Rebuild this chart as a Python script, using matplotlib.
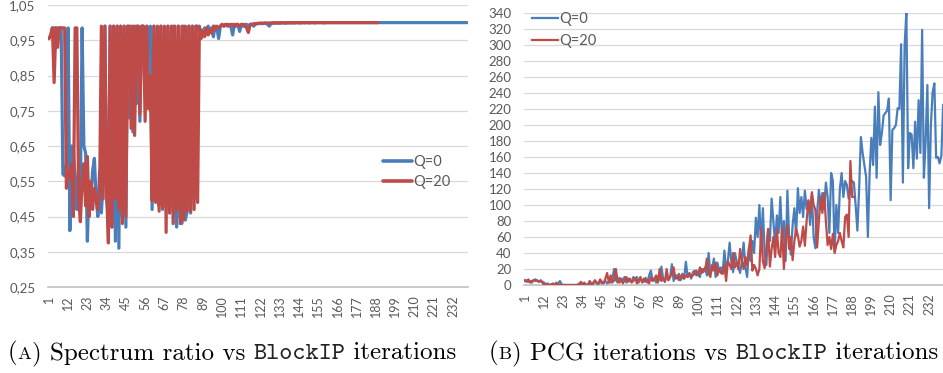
import matplotlib
matplotlib.use("Agg")
import matplotlib.pyplot as plt
from matplotlib.ticker import FuncFormatter
from matplotlib.offsetbox import TextArea, HPacker, AnchoredOffsetbox

series_labels = ["Q=0", "Q=20"]
series_colors = ["#4A7EBB", "#BE4B48"]

# (A) spectrum ratio per BlockIP iteration
ratio_q0 = [
    0.955, 0.96, 0.985, 0.985, 0.985, 0.985, 0.985, 0.985, 0.57, 0.565,
    0.6, 0.985, 0.41, 0.65, 0.64, 0.55, 0.47, 0.6, 0.52, 0.985,
    0.65, 0.63, 0.38, 0.55, 0.5, 0.58, 0.615, 0.5, 0.45, 0.58,
    0.46, 0.55, 0.99, 0.5, 0.45, 0.99, 0.42, 0.99, 0.38, 0.99,
    0.36, 0.99, 0.45, 0.99, 0.42, 0.99, 0.73, 0.99, 0.69, 0.99,
    0.77, 0.99, 0.72, 0.99, 0.99, 0.9, 0.99, 0.93, 0.99, 0.47,
    0.99, 0.5, 0.9, 0.48, 0.99, 0.47, 0.93, 0.5, 0.99, 0.46,
    0.95, 0.99, 0.48, 0.42, 0.99, 0.45, 0.43, 0.99, 0.44, 0.465,
    0.99, 0.46, 0.99, 0.5, 0.99, 0.99, 0.975, 0.98, 0.97, 0.985,
    0.975, 0.99, 0.98, 0.985, 0.96, 0.99, 0.985, 0.955, 0.99, 0.995,
    0.99, 0.995, 0.99, 0.995, 0.99, 0.965, 0.995, 0.99, 0.995, 0.975,
    0.995, 0.99, 0.995, 0.995, 0.99, 0.995, 0.995, 0.99, 0.995, 0.997,
    0.997, 0.998, 0.997, 0.998, 0.998, 0.995, 0.99, 0.998, 0.998, 0.999,
    0.998, 0.999, 0.998, 0.999, 0.999, 0.998, 0.999, 0.999, 0.999, 0.999,
    0.999, 0.999, 1.0, 0.999, 0.999, 1.0, 0.999, 1.0, 1.0, 0.999,
    1.0, 1.0, 0.999, 1.0, 1.0, 1.0, 1.0, 0.999, 1.0, 1.0,
    1.0, 1.0, 1.0, 1.0, 1.0, 1.0, 1.0, 1.0, 1.0, 1.0,
    1.0, 1.0, 1.0, 1.0, 1.0, 1.0, 1.0, 1.0, 1.0, 1.0,
    1.0, 1.0, 1.0, 1.0, 1.0, 1.0, 1.0, 1.0, 1.0, 1.0,
    1.0, 1.0, 1.0, 1.0, 1.0, 1.0, 1.0, 1.0, 1.0, 1.0,
    1.0, 1.0, 1.0, 1.0, 1.0, 1.0, 1.0, 1.0, 1.0, 1.0,
    1.0, 1.0, 1.0, 1.0, 1.0, 1.0, 1.0, 1.0, 1.0, 1.0,
    1.0, 1.0, 1.0, 1.0, 1.0, 1.0, 1.0, 1.0, 1.0, 1.0,
    1.0, 1.0, 1.0, 1.0, 1.0, 1.0, 1.0, 1.0, 1.0, 1.0,
]
ratio_q20 = [
    0.955, 0.965, 0.985, 0.83, 0.985, 0.93, 0.985, 0.985, 0.985, 0.985,
    0.53, 0.58, 0.56, 0.6, 0.45, 0.985, 0.985, 0.5, 0.435, 0.55,
    0.6, 0.48, 0.62, 0.45, 0.55, 0.47, 0.53, 0.5, 0.47, 0.52,
    0.99, 0.5, 0.99, 0.52, 0.375, 0.99, 0.42, 0.99, 0.5, 0.99,
    0.47, 0.99, 0.43, 0.99, 0.45, 0.99, 0.99, 0.7, 0.99, 0.68,
    0.99, 0.99, 0.74, 0.99, 0.99, 0.72, 0.99, 0.755, 0.85, 0.495,
    0.99, 0.49, 0.99, 0.465, 0.99, 0.475, 0.99, 0.405, 0.99, 0.46,
    0.99, 0.43, 0.99, 0.47, 0.99, 0.43, 0.99, 0.44, 0.99, 0.465,
    0.99, 0.465, 0.99, 0.47, 0.99, 0.49, 0.99, 0.955, 0.975, 0.96,
    0.985, 0.965, 0.98, 0.97, 0.99, 0.98, 0.99, 0.985, 0.99, 0.995,
    0.99, 0.995, 0.995, 0.99, 0.995, 0.995, 0.99, 0.995, 0.995, 0.99,
    0.995, 0.995, 0.99, 0.985, 0.972, 0.995, 0.995, 0.997, 0.997, 0.998,
    0.998, 0.999, 0.998, 0.999, 0.999, 0.999, 0.999, 0.999, 1.0, 0.999,
    1.0, 0.999, 1.0, 1.0, 1.0, 0.999, 1.0, 1.0, 1.0, 1.0,
    1.0, 1.0, 1.0, 1.0, 1.0, 1.0, 1.0, 1.0, 1.0, 1.0,
    1.0, 1.0, 1.0, 1.0, 1.0, 1.0, 1.0, 1.0, 1.0, 1.0,
    1.0, 1.0, 1.0, 1.0, 1.0, 1.0, 1.0, 1.0, 1.0, 1.0,
    1.0, 1.0, 1.0, 1.0, 1.0, 1.0, 1.0, 1.0, 1.0, 1.0,
    1.0, 1.0, 1.0, 1.0, 1.0, 1.0, 1.0, 1.0, 1.0,
]

# (B) PCG iterations per BlockIP iteration
pcg_q0 = [
    5, 6, 4, 5, 3, 6, 7, 5, 4, 6,
    4, 3, 1, 2, 0, 1, 0, 0, 2, 1,
    5, 1, 0, 0, 0, 0, 0, 0,
    0, 0, 0, 2, 0, 1, 3, 0, 1, 2,
    0, 3, 5, 2, 1, 4, 2, 3, 5, 2,
    4, 3, 8, 20, 6, 3, 9, 4, 7, 10,
    3, 8, 5, 4, 10, 6, 10, 3, 8, 5,
    4, 9, 3, 12, 18, 5, 8, 3, 10, 6,
    23, 8, 4, 12, 6, 10, 26, 5, 12, 8,
    14, 6, 10, 8, 29, 10, 14, 8, 16, 18,
    12, 14, 10, 20, 16, 22, 12, 40, 14, 20,
    33, 10, 28, 18, 22, 14, 43, 20, 30, 53,
    28, 16, 40, 30, 22, 15, 30, 53, 22, 10,
    45, 30, 55, 40, 84, 60, 100, 48,
    96, 40, 25, 70, 55, 108, 80, 50, 87, 65,
    110, 55, 80, 30, 118, 60, 38, 75, 96, 62,
    121, 90, 110, 85, 118, 95, 105, 75, 113, 60,
    46, 90, 119, 100, 115, 95, 128, 110, 65, 140,
    130, 42, 100, 65, 120, 140, 110, 130, 125, 108,
    125, 130, 128, 100, 68, 120, 185, 165, 150, 135,
    60, 140, 184, 150, 223, 134, 241, 175, 190, 212,
    215, 218, 233, 106, 194, 196, 200, 221, 220, 301,
    128, 300, 341, 146, 190, 188, 146, 204, 158, 231,
    165, 319, 134, 180, 250, 96, 200, 241, 252, 159,
    160, 152, 162, 225,
]
pcg_q20 = [
    6, 4, 7, 3, 5, 6, 5, 6, 4, 5,
    3, 0, 1, 0, 0, 0, 2, 0, 3, 0,
    0, 0, 0, 0, 0, 0, 0, 0, 0, 0,
    0, 0, 4, 1, 2, 0, 0, 5, 2, 1,
    6, 3, 2, 7, 4, 2, 8, 15, 3, 12,
    3, 6, 20, 5, 3, 8, 2, 6, 10, 4,
    8, 3, 5, 9, 2, 6, 10, 3, 8, 4,
    6, 2, 10, 5, 8, 12, 3, 20, 5, 8,
    4, 20, 6, 10, 15, 22, 8, 12, 6, 10,
    14, 8, 12, 10, 15, 10, 12, 14, 18, 12,
    22, 15, 20, 18, 33, 14, 10, 25, 18, 28,
    12, 20, 15, 14, 25, 5, 30, 25, 20, 40,
    22, 28, 20, 45, 30, 20, 35, 25, 45, 62,
    18, 25, 20, 12, 20, 71, 30, 21, 45, 70,
    23, 45, 60, 35, 69, 40, 35, 72, 20, 55,
    75, 45, 60, 31, 55, 70, 62, 48, 55, 73,
    49, 80, 106, 90, 116, 100, 94, 47, 80, 110,
    90, 115, 80, 50, 60, 45, 64, 40, 50, 55,
    65, 55, 47, 85, 88, 60, 155, 110, 110,
]

xtick_labels = [1, 12, 23, 34, 45, 56, 67, 78, 89, 100, 111, 122, 133,
                144, 155, 166, 177, 188, 199, 210, 221, 232]
ratio_yticks = [0.25, 0.35, 0.45, 0.55, 0.65, 0.75, 0.85, 0.95, 1.05]
pcg_yticks = [0, 20, 40, 60, 80, 100, 120, 140, 160, 180, 200, 220, 240,
              260, 280, 300, 320, 340]
captions = [("(", "A", ") Spectrum ratio vs ", "BlockIP", " iterations"),
            ("(", "B", ") PCG iterations vs ", "BlockIP", " iterations")]

plt.rcParams['font.family'] = ['Lato', 'DejaVu Sans']
W, H = 943, 373
fig = plt.figure(figsize=(W / 100, H / 100), dpi=100)
fig.patch.set_facecolor('white')


def axes_px(x0, y0, x1, y1):
    return fig.add_axes([x0 / W, 1 - y1 / H, (x1 - x0) / W, (y1 - y0) / H])


TXT = '#595959'


def style(ax, yticks, ylim, fmt):
    n = len(ratio_q0)
    ax.set_xlim(0.5, n + 0.5)
    ax.set_ylim(*ylim)
    ax.set_xticks(xtick_labels)
    ax.set_xticklabels([str(v) for v in xtick_labels], rotation=90,
                       fontsize=9, color=TXT)
    ax.set_yticks(yticks)
    ax.yaxis.set_major_formatter(FuncFormatter(fmt))
    for lab in ax.get_yticklabels():
        lab.set_fontsize(9.5)
        lab.set_color(TXT)
    ax.tick_params(axis='both', length=0)
    ax.tick_params(axis='y', pad=9)
    ax.tick_params(axis='x', pad=6)
    ax.grid(axis='y', color='#D9D9D9', linewidth=0.9)
    ax.set_axisbelow(True)
    for s in ['top', 'right', 'left']:
        ax.spines[s].set_visible(False)
    ax.spines['bottom'].set_color('#BFBFBF')
    ax.spines['bottom'].set_linewidth(1.2)
    ax.spines['bottom'].set_zorder(0.5)


# Left chart
ax1 = axes_px(48, 5, 468, 287)
x0 = list(range(1, len(ratio_q0) + 1))
x20 = list(range(1, len(ratio_q20) + 1))
ax1.plot(x0, ratio_q0, color=series_colors[0], lw=2.3,
         solid_joinstyle='round', solid_capstyle='round', label=series_labels[0])
ax1.plot(x20, ratio_q20, color=series_colors[1], lw=2.3,
         solid_joinstyle='round', solid_capstyle='round', label=series_labels[1])
style(ax1, ratio_yticks, (0.25, 1.05), lambda v, p: f"{v:.2f}".replace('.', ','))
leg1 = ax1.legend(loc='center left', bbox_to_anchor=((383 - 48) / 420, (287 - 172) / 282),
                  frameon=False, fontsize=10.5, handlelength=2.0, handletextpad=0.1,
                  borderpad=0, borderaxespad=0, labelspacing=0.45)
for t in leg1.get_texts():
    t.set_color(TXT)
for h in leg1.get_lines():
    h.set_linewidth(2.6)

# Right chart
ax2 = axes_px(524, 13, 944, 285)
xp0 = list(range(1, len(pcg_q0) + 1))
xp20 = list(range(1, len(pcg_q20) + 1))
ax2.plot(xp0, pcg_q0, color=series_colors[0], lw=1.6,
         solid_joinstyle='round', label=series_labels[0])
ax2.plot(xp20, pcg_q20, color=series_colors[1], lw=1.6,
         solid_joinstyle='round', label=series_labels[1])
style(ax2, pcg_yticks, (0, 340), lambda v, p: f"{int(round(v))}")
leg2 = ax2.legend(loc='center left', bbox_to_anchor=((532 - 524) / 420, (285 - 30) / 272),
                  frameon=False, fontsize=10.5, handlelength=1.8, handletextpad=0.1,
                  borderpad=0, borderaxespad=0, labelspacing=0.6)
for t in leg2.get_texts():
    t.set_color(TXT)

# Captions
fs = 18.0
for (p1, letter, rest, mono, tail), xpx in zip(captions, [8, 489]):
    parts = [
        TextArea(p1, textprops=dict(family='cmr10', size=fs, color='black')),
        TextArea(letter, textprops=dict(family='cmr10', size=fs * 0.74, color='black')),
        TextArea(rest, textprops=dict(family='cmr10', size=fs, color='black')),
        TextArea(mono, textprops=dict(family='cmtt10', size=fs, color='#222222')),
        TextArea(tail, textprops=dict(family='cmr10', size=fs, color='black')),
    ]
    pack = HPacker(children=parts, align='baseline', pad=0, sep=0)
    box = AnchoredOffsetbox(loc='lower left', child=pack, pad=0, borderpad=0,
                            frameon=False, bbox_to_anchor=(xpx / W, 1 - 366 / H),
                            bbox_transform=fig.transFigure)
    fig.add_artist(box)

fig.savefig('out.png', dpi=100, facecolor='white')
